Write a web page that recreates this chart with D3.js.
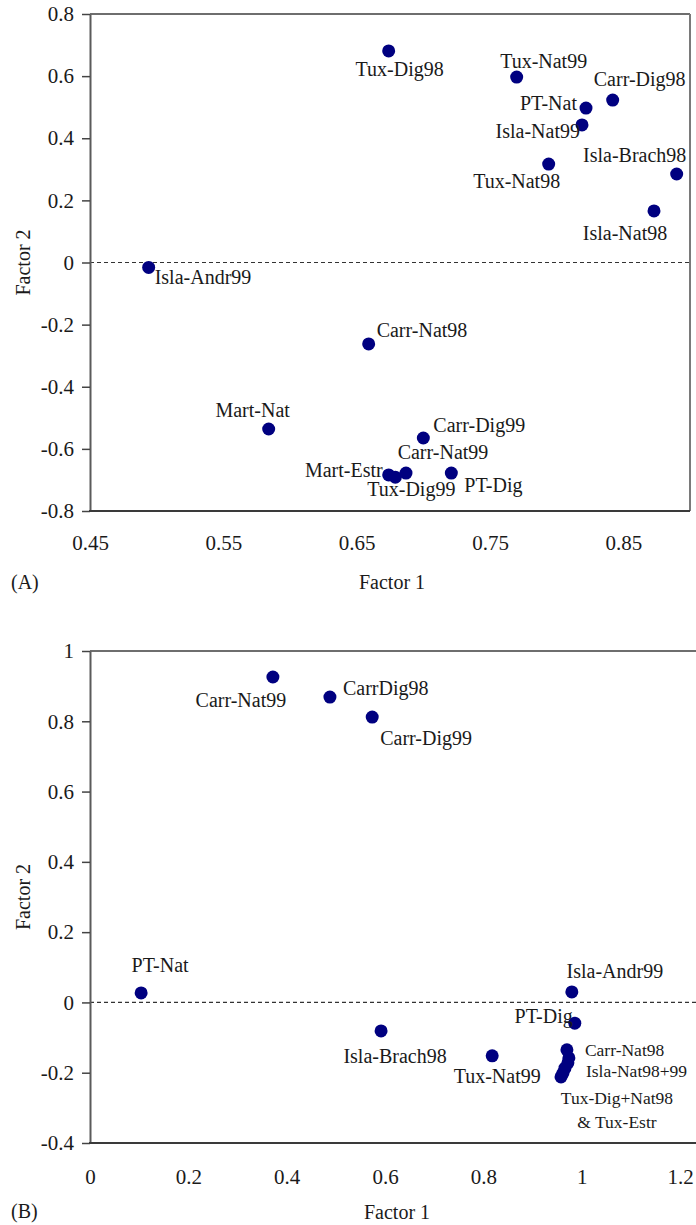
<!DOCTYPE html>
<html>
<head>
<meta charset="utf-8">
<script src="https://cdn.jsdelivr.net/npm/d3@7"></script>
<style>
  body { margin: 0; background: #fff; }
  svg text { font-family: "Liberation Serif", "Times New Roman", serif; fill: #1a1a1a; }
</style>
</head>
<body>
<svg id="fig" width="696" height="1225"></svg>
<script>
// panel A - factor loadings
var namesA = ["Tux-Dig98","Tux-Nat99","Carr-Dig98","PT-Nat","Isla-Nat99","Tux-Nat98","Isla-Brach98","Isla-Nat98",
              "Isla-Andr99","Carr-Nat98","Mart-Nat","Carr-Dig99","Carr-Nat99","Mart-Estr","Tux-Dig99","PT-Dig"];
var factor1A = [0.674,0.770,0.842,0.822,0.819,0.794,0.890,0.873,0.494,0.659,0.584,0.700,0.687,0.674,0.679,0.721];
var factor2A = [0.681,0.597,0.523,0.497,0.443,0.317,0.285,0.166,-0.016,-0.262,-0.536,-0.565,-0.678,-0.684,-0.691,-0.678];
var xTicksA = [0.45,0.55,0.65,0.75,0.85];
var xTickLabelsA = ["0.45","0.55","0.65","0.75","0.85"];
var yTicksA = [-0.8,-0.6,-0.4,-0.2,0,0.2,0.4,0.6,0.8];
var yTickLabelsA = ["-0.8","-0.6","-0.4","-0.2","0","0.2","0.4","0.6","0.8"];

// panel B
var namesB = ["Carr-Nat99","CarrDig98","Carr-Dig99","PT-Nat","Isla-Brach98","Tux-Nat99","Isla-Andr99","PT-Dig",
              "Carr-Nat98","Isla-Nat98","Isla-Nat99","Tux-Dig","Tux-Nat98","Tux-Estr"];
var factor1B = [0.372,0.488,0.574,0.104,0.592,0.818,0.980,0.986,0.970,0.974,0.972,0.966,0.962,0.958];
var factor2B = [0.926,0.869,0.812,0.027,-0.081,-0.152,0.030,-0.059,-0.135,-0.158,-0.172,-0.187,-0.201,-0.212];
var xTicksB = [0,0.2,0.4,0.6,0.8,1,1.2];
var xTickLabelsB = ["0","0.2","0.4","0.6","0.8","1","1.2"];
var yTicksB = [-0.4,-0.2,0,0.2,0.4,0.6,0.8,1];
var yTickLabelsB = ["-0.4","-0.2","0","0.2","0.4","0.6","0.8","1"];

// label placement: [dx, dy, anchor, small]  (offset from the dot, px)
var placeA = {
  "Tux-Dig98":[11,25,"middle"], "Tux-Nat99":[27,-9,"middle"], "Carr-Dig98":[27,-14,"middle"],
  "PT-Nat":[-9,2,"end"], "Isla-Nat99":[-2,13,"end"], "Tux-Nat98":[-32,24,"middle"],
  "Isla-Brach98":[-42,-12,"middle"], "Isla-Nat98":[-29,29,"middle"], "Isla-Andr99":[6,17,"start"],
  "Carr-Nat98":[8,-7,"start"], "Mart-Nat":[-16,-12,"middle"], "Carr-Dig99":[10,-6,"start"],
  "Carr-Nat99":[37,-14,"middle"], "Mart-Estr":[-6,2,"end"], "Tux-Dig99":[16,19,"middle"], "PT-Dig":[13,19,"start"]
};
var placeB = {
  "Carr-Nat99":[-32,30,"middle"], "CarrDig98":[13,-2,"start"], "Carr-Dig99":[8,28,"start"],
  "PT-Nat":[19,-21,"middle"], "Isla-Brach98":[14,32,"middle"], "Tux-Nat99":[5,27,"middle"],
  "Isla-Andr99":[43,-14,"middle"], "PT-Dig":[-2,0,"end"], "Carr-Nat98":[18,6,"start",true]
};
// labels shared by several overlapping dots in panel B
var groupLabelsB = [
  {text:"Isla-Nat98+99", at:"Isla-Nat98", p:[17,19,"start",true]},
  {text:"Tux-Dig+Nat98", at:"Tux-Nat98", p:[54,31,"middle",true]},
  {text:"& Tux-Estr", at:"Tux-Nat98", p:[54,55,"middle",true]}
];

var FONT = '"Liberation Serif", "Times New Roman", serif';
var svg = d3.select("#fig");

function drawPanel(cfg) {
  var g = svg.append("g").attr("font-family", FONT);
  var x = d3.scaleLinear().domain(cfg.xDomain).range(cfg.xRange);
  var y = d3.scaleLinear().domain(cfg.yDomain).range(cfg.yRange);
  var right = cfg.frameRight;

  // frame: top + (optional) right border
  g.append("line").attr("x1", cfg.xRange[0]).attr("x2", right)
    .attr("y1", y(cfg.yDomain[1])).attr("y2", y(cfg.yDomain[1]))
    .attr("stroke", "#6e6e6e").attr("stroke-width", 2);
  if (cfg.rightBorder) {
    g.append("line").attr("x1", right).attr("x2", right)
      .attr("y1", y(cfg.yDomain[1])).attr("y2", y(cfg.yDomain[0]))
      .attr("stroke", "#7a7a7a").attr("stroke-width", 2);
  }

  // zero line
  g.append("line").attr("x1", cfg.xRange[0]).attr("x2", right)
    .attr("y1", y(0)).attr("y2", y(0))
    .attr("stroke", "#333").attr("stroke-width", 1.2).attr("stroke-dasharray", "4,3");

  // y axis
  var ya = g.append("g").attr("transform", "translate(" + cfg.xRange[0] + ",0)")
    .call(d3.axisLeft(y).tickValues(cfg.yTicks).tickSize(8).tickSizeOuter(0).tickPadding(8)
      .tickFormat(function(d, i) { return cfg.yLabels[i]; }));
  ya.attr("font-family", FONT);
  ya.select(".domain").attr("stroke", "#5a5a5a").attr("stroke-width", 2);
  ya.selectAll(".tick line").attr("stroke", "#444").attr("stroke-width", 1.5);
  ya.selectAll(".tick text").style("font-family", FONT).style("font-size", "21px").attr("fill", "#1a1a1a");

  // x axis (no tick marks)
  var xa = g.append("g").attr("transform", "translate(0," + y(cfg.yDomain[0]) + ")")
    .call(d3.axisBottom(x).tickValues(cfg.xTicks).tickSize(0).tickPadding(cfg.xPad)
      .tickFormat(function(d, i) { return cfg.xLabels[i]; }));
  xa.attr("font-family", FONT);
  xa.select(".domain").remove();
  xa.selectAll(".tick text").style("font-family", FONT).style("font-size", "21px").attr("fill", "#1a1a1a");
  g.append("line").attr("x1", cfg.xRange[0] - 1).attr("x2", right)
    .attr("y1", y(cfg.yDomain[0])).attr("y2", y(cfg.yDomain[0]))
    .attr("stroke", "#3a3a3a").attr("stroke-width", 2);

  // axis titles + panel tag
  g.append("text").attr("x", cfg.xTitleX).attr("y", cfg.xTitleY)
    .attr("text-anchor", "middle").style("font-size", "20px").text("Factor 1");
  var yMid = (y(cfg.yDomain[0]) + y(cfg.yDomain[1])) / 2;
  g.append("text").attr("transform", "translate(30," + yMid + ") rotate(-90)")
    .attr("text-anchor", "middle").style("font-size", "20px").text("Factor 2");
  g.append("text").attr("x", 11).attr("y", cfg.tagY).style("font-size", "20px").text(cfg.tag);

  var pts = cfg.names.map(function(n, i) { return {name: n, fx: cfg.f1[i], fy: cfg.f2[i]}; });

  g.selectAll("circle.pt").data(pts).enter().append("circle")
    .attr("class", "pt")
    .attr("cx", function(d) { return x(d.fx); })
    .attr("cy", function(d) { return y(d.fy); })
    .attr("r", 6.5)
    .attr("fill", "#000080");

  var labs = [];
  pts.forEach(function(d) {
    var p = cfg.place[d.name];
    if (p) labs.push({text: d.name, fx: d.fx, fy: d.fy, p: p});
  });
  (cfg.groups || []).forEach(function(gl) {
    var i = cfg.names.indexOf(gl.at);
    labs.push({text: gl.text, fx: cfg.f1[i], fy: cfg.f2[i], p: gl.p});
  });

  g.selectAll("text.lab").data(labs).enter().append("text")
    .attr("class", "lab")
    .attr("x", function(d) { return x(d.fx) + d.p[0]; })
    .attr("y", function(d) { return y(d.fy) + d.p[1]; })
    .attr("text-anchor", function(d) { return d.p[2]; })
    .style("font-size", function(d) { return d.p[3] ? "17.5px" : "20px"; })
    .text(function(d) { return d.text; });
}

drawPanel({
  names: namesA, f1: factor1A, f2: factor2A, place: placeA,
  xDomain: [0.45, 0.9], xRange: [90, 690], yDomain: [-0.8, 0.8], yRange: [511, 14],
  xTicks: xTicksA, xLabels: xTickLabelsA, yTicks: yTicksA, yLabels: yTickLabelsA,
  frameRight: 690, rightBorder: true, xPad: 24,
  xTitleX: 392, xTitleY: 589, tag: "(A)", tagY: 589
});

drawPanel({
  names: namesB, f1: factor1B, f2: factor2B, place: placeB, groups: groupLabelsB,
  xDomain: [0, 1.2], xRange: [90, 680], yDomain: [-0.4, 1], yRange: [1143, 651],
  xTicks: xTicksB, xLabels: xTickLabelsB, yTicks: yTicksB, yLabels: yTickLabelsB,
  frameRight: 700, rightBorder: false, xPad: 26,
  xTitleX: 397, xTitleY: 1219, tag: "(B)", tagY: 1218
});
</script>
</body>
</html>
